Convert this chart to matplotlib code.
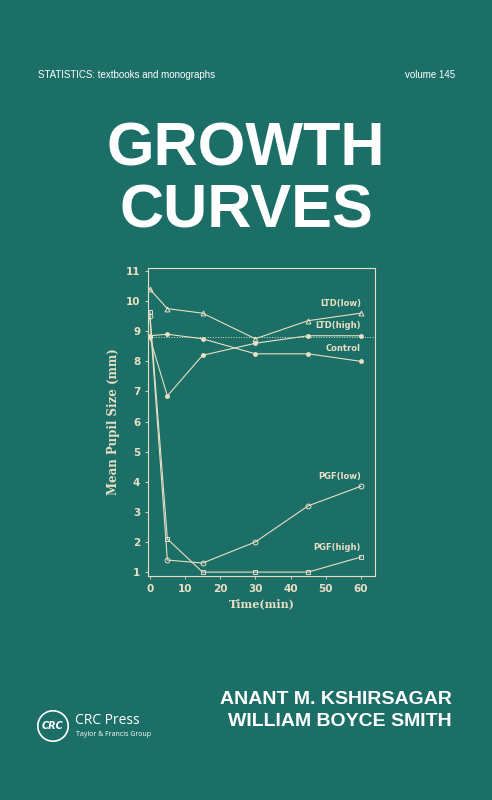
import matplotlib.pyplot as plt
from matplotlib.patches import Circle

bg = '#1b6f67'
cream = '#e9dfc4'

times = [0, 5, 15, 30, 45, 60]
ltd_low = [10.4, 9.75, 9.6, 8.75, 9.35, 9.6]
ltd_high = [8.8, 6.85, 8.2, 8.6, 8.85, 8.85]
control = [8.85, 8.9, 8.75, 8.25, 8.25, 8.0]
pgf_low = [9.5, 1.4, 1.3, 2.0, 3.2, 3.85]
pgf_high = [9.65, 2.1, 1.0, 1.0, 1.0, 1.5]
baseline = 8.8

W, H = 492, 800
fig = plt.figure(figsize=(W / 100, H / 100), dpi=100, facecolor=bg)

def fx(px):
    return px / W

def fy(py):
    return 1 - py / H

fig.text(fx(38), fy(75), 'STATISTICS: textbooks and monographs', color='white',
         fontsize=7, va='center', family='Liberation Sans')
fig.text(fx(455), fy(75), 'volume 145', color='white', fontsize=7, va='center',
         ha='right', family='Liberation Sans')
fig.text(fx(246), fy(150), 'GROWTH', color='white', fontsize=44, weight='bold',
         ha='center', va='center', family='Liberation Sans')
fig.text(fx(246), fy(212), 'CURVES', color='white', fontsize=44, weight='bold',
         ha='center', va='center', family='Liberation Sans')

ax = fig.add_axes([fx(148), fy(576), fx(375) - fx(148), fy(268) - fy(576)])
ax.set_facecolor(bg)
ax.set_xlim(-0.5, 64)
ax.set_ylim(0.87, 11.1)
for s in ax.spines.values():
    s.set_color(cream)
    s.set_linewidth(0.8)
ax.tick_params(colors=cream, labelsize=7.5, length=2, width=0.6)
ax.set_xticks([0, 10, 20, 30, 40, 50, 60])
ax.set_yticks(range(1, 12))
for lab in ax.get_xticklabels() + ax.get_yticklabels():
    lab.set_fontweight('bold')
ax.set_xlabel('Time(min)', color=cream, fontsize=8, family='DejaVu Serif',
              weight='bold', labelpad=3)
ax.set_ylabel('Mean Pupil Size (mm)', color=cream, fontsize=8.5, family='DejaVu Serif',
              weight='bold', labelpad=4)

kw = dict(color=cream, lw=0.8, mfc='none', mec=cream, ms=3.5, mew=0.7)
ax.plot(times, ltd_low, marker='^', **kw)
ax.plot(times, ltd_high, marker='o', ms=2.5, color=cream, lw=0.8, mfc=cream, mec=cream)
ax.plot(times, control, marker='o', ms=2.5, color=cream, lw=0.8, mfc=cream, mec=cream)
ax.plot(times, pgf_low, marker='o', **kw)
ax.plot(times, pgf_high, marker='s', **kw)
ax.axhline(baseline, color=cream, lw=0.7, ls=':')

lab_kw = dict(color=cream, fontsize=6, weight='bold', ha='right')
ax.text(60, 9.85, 'LTD(low)', **lab_kw)
ax.text(60, 9.1, 'LTD(high)', **lab_kw)
ax.text(60, 8.35, 'Control', **lab_kw)
ax.text(60, 4.1, 'PGF(low)', **lab_kw)
ax.text(60, 1.75, 'PGF(high)', **lab_kw)

fig.text(fx(452), fy(700), 'ANANT M. KSHIRSAGAR', color='white', fontsize=14,
         weight='bold', ha='right', va='center', family='Liberation Sans')
fig.text(fx(452), fy(722), 'WILLIAM BOYCE SMITH', color='white', fontsize=14,
         weight='bold', ha='right', va='center', family='Liberation Sans')

logo = fig.add_axes([fx(37), fy(742), fx(32), fx(32) * W / H])
logo.set_xlim(-1, 1)
logo.set_ylim(-1, 1)
logo.axis('off')
logo.add_patch(Circle((0, 0), 0.95, fill=False, ec='white', lw=1.2))
logo.text(0, 0, 'CRC', color='white', fontsize=7, weight='bold', style='italic',
          ha='center', va='center')
fig.text(fx(75), fy(720), 'CRC Press', color='white', fontsize=10, va='center',
         family='Open Sans')
fig.text(fx(76), fy(735), 'Taylor & Francis Group', color='white', fontsize=5,
         va='center', family='Open Sans')

fig.savefig('out.png', dpi=100, facecolor=bg)
